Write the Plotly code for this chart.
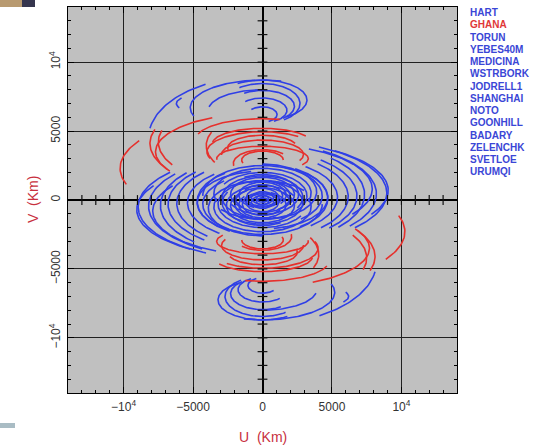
import numpy as np
import plotly.graph_objects as go

# ---------------- data ----------------
# Each UV track is an elliptical arc centred on (0, v0) with semi-axes a (u) and b (v),
# drawn between angles t1 and t2 (degrees, u = a*cos t, v = v0 + b*sin t).
# Every track is also drawn as its conjugate (-u, -v).

# blue tracks (all baselines without GHANA)
blue_a  = [3200, 2700, 1760, 1050, 2300, 5200, 3900, 8200, 6200,
           8950, 7350, 6170, 8200, 5400, 4700, 6800, 9050, 7900,
           450, 800, 1150, 1450, 1700, 2000, 2300, 2600, 2900, 3200, 3500, 3900, 4300, 4700]
blue_v0 = [7250, 7000, 6500, 6200, 6800, 6700, 6500, 4500, 7000,
           -500, -400, -250, -450, -200, -100, -300, -700, -800,
           100, -150, 200, -300, 350, -250, 400, -400, 200, -300, 500, -600, 300, -200]
blue_b  = [1450, 1450, 900, 560, 1150, 2000, 1500, 4500, 1200,
           3750, 3550, 3100, 3650, 2700, 2500, 3300, 3500, 3200,
           260, 460, 650, 820, 950, 1150, 1250, 1450, 1550, 1700, 1800, 2000, 2200, 2300]
blue_t1 = [-58, -55, -62, -65, -50, 75, 95, 120, 160,
           138, 138, 133, 140, 130, 125, 135, 150, 145,
           0, 0, 0, 20, -40, 0, -60, 30, -30, 60, -20, 40, -50, 100]
blue_t2 = [124, 128, 135, 140, 125, 198, 170, 171, 195,
           243, 228, 230, 238, 235, 240, 232, 235, 245,
           360, 360, 360, 330, 250, 300, 230, 300, 250, 330, 200, 270, 180, 250]

# red tracks (baselines to GHANA)
red_a  = [10250, 8100, 7500, 7700, 2100, 2950, 4000, 4800, 4050, 3300, 1500, 2500, 3600]
red_v0 = [2300, 4100, 4200, 3500, 2650, 3300, 3500, 4400, 3950, 3000, 2900, 3800, 4100]
red_b  = [4000, 3500, 3300, 2800, 1000, 1050, 1450, 1500, 2300, 900, 650, 900, 1100]
red_t1 = [150, 163, 165, 118, 45, -25, 50, 75, 155, -30, 0, 20, 30]
red_t2 = [197, 212, 210, 210, 190, 182, 200, 165, 212, 185, 200, 190, 175]

stations = ["HART", "GHANA", "TORUN", "YEBES40M", "MEDICINA", "WSTRBORK", "JODRELL1",
            "SHANGHAI", "NOTO", "GOONHILL", "BADARY", "ZELENCHK", "SVETLOE", "URUMQI"]
highlight = "GHANA"

tick_vals = [-10000, -5000, 0, 5000, 10000]
tick_text = ["\u221210<sup>4</sup>", "\u22125000", "0", "5000", "10<sup>4</sup>"]
axis_min, axis_max, minor_step = -14000, 14000, 1000

BLUE = "#2f3fe6"
RED = "#e6302c"


def tracks(a_list, v0_list, b_list, t1_list, t2_list):
    us, vs = [], []
    for a, v0, b, t1, t2 in zip(a_list, v0_list, b_list, t1_list, t2_list):
        n = max(10, int(abs(t2 - t1) / 1.5))
        t = np.radians(np.linspace(t1, t2, n))
        u = a * np.cos(t)
        v = v0 + b * np.sin(t)
        us += list(u) + [None] + list(-u) + [None]
        vs += list(v) + [None] + list(-v) + [None]
    return us, vs


fig = go.Figure()
bu, bv = tracks(blue_a, blue_v0, blue_b, blue_t1, blue_t2)
ru, rv = tracks(red_a, red_v0, red_b, red_t1, red_t2)
fig.add_trace(go.Scatter(x=bu, y=bv, mode="lines", line=dict(color=BLUE, width=1.6),
                         hoverinfo="skip", showlegend=False))
fig.add_trace(go.Scatter(x=ru, y=rv, mode="lines", line=dict(color=RED, width=1.6),
                         hoverinfo="skip", showlegend=False))

# tick marks along the zero axes
minor = [m for m in range(axis_min + minor_step, axis_max, minor_step) if m != 0]
fig.add_trace(go.Scatter(x=minor, y=[0] * len(minor), mode="markers",
                         marker=dict(symbol="line-ns", size=7, line=dict(width=1.2, color="#111")),
                         hoverinfo="skip", showlegend=False))
fig.add_trace(go.Scatter(x=[0] * len(minor), y=minor, mode="markers",
                         marker=dict(symbol="line-ew", size=7, line=dict(width=1.2, color="#111")),
                         hoverinfo="skip", showlegend=False))

axis_common = dict(
    range=[axis_min, axis_max], tickmode="array", tickvals=tick_vals, ticktext=tick_text,
    showgrid=True, gridcolor="#202020", gridwidth=1,
    zeroline=True, zerolinecolor="#000", zerolinewidth=1.5,
    showline=True, linecolor="#000", linewidth=1, mirror="ticks",
    ticks="inside", ticklen=6, tickcolor="#000",
    minor=dict(ticks="inside", ticklen=3, tickmode="linear", tick0=0, dtick=minor_step,
               tickcolor="#000", showgrid=False),
    tickfont=dict(family="Liberation Sans, Arial", size=12, color="#333"),
    fixedrange=True,
)

fig.update_layout(
    width=542, height=446,
    margin=dict(l=68, r=85, t=7, b=53),
    paper_bgcolor="white", plot_bgcolor="#c0c0c0",
    xaxis=dict(**axis_common, ticklabelstandoff=3),
    yaxis=dict(**axis_common, tickangle=-90, ticklabelstandoff=2),
    showlegend=False,
)

# plot-area pixel helpers (plot spans x 68..457, y 7..393)
def px_x(p):
    return (p - 68) / 389.0


def px_y(p):
    return (393 - p) / 386.0


annotations = []
for i, name in enumerate(stations):
    annotations.append(dict(
        x=px_x(468), y=px_y(12.7 + 12.25 * i), xref="paper", yref="paper",
        xanchor="left", yanchor="middle", showarrow=False, text="<b>%s</b>" % name,
        font=dict(family="Liberation Sans, Arial", size=10,
                  color=("#e03838" if name == highlight else "#3a46d6"))))
annotations.append(dict(x=0.5, y=px_y(437), xref="paper", yref="paper", showarrow=False,
                        text="U  (Km)", xanchor="center", yanchor="middle",
                        font=dict(family="Liberation Sans, Arial", size=14, color="#c8303e")))
annotations.append(dict(x=px_x(33), y=0.5, xref="paper", yref="paper", showarrow=False,
                        text="V  (Km)", textangle=-90, xanchor="center", yanchor="middle",
                        font=dict(family="Liberation Sans, Arial", size=14, color="#c8303e")))
fig.update_layout(annotations=annotations)

# slide decorations around the chart
fig.update_layout(shapes=[
    dict(type="rect", xref="paper", yref="paper", x0=px_x(0), x1=px_x(22), y0=px_y(7), y1=px_y(0),
         fillcolor="#b89a70", line=dict(width=0), layer="above"),
    dict(type="rect", xref="paper", yref="paper", x0=px_x(22), x1=px_x(35), y0=px_y(7), y1=px_y(0),
         fillcolor="#35354e", line=dict(width=0), layer="above"),
    dict(type="rect", xref="paper", yref="paper", x0=px_x(0), x1=px_x(15), y0=px_y(428), y1=px_y(423),
         fillcolor="#a9bcc4", line=dict(width=0), layer="above"),
])

fig.write_html("out.html")
